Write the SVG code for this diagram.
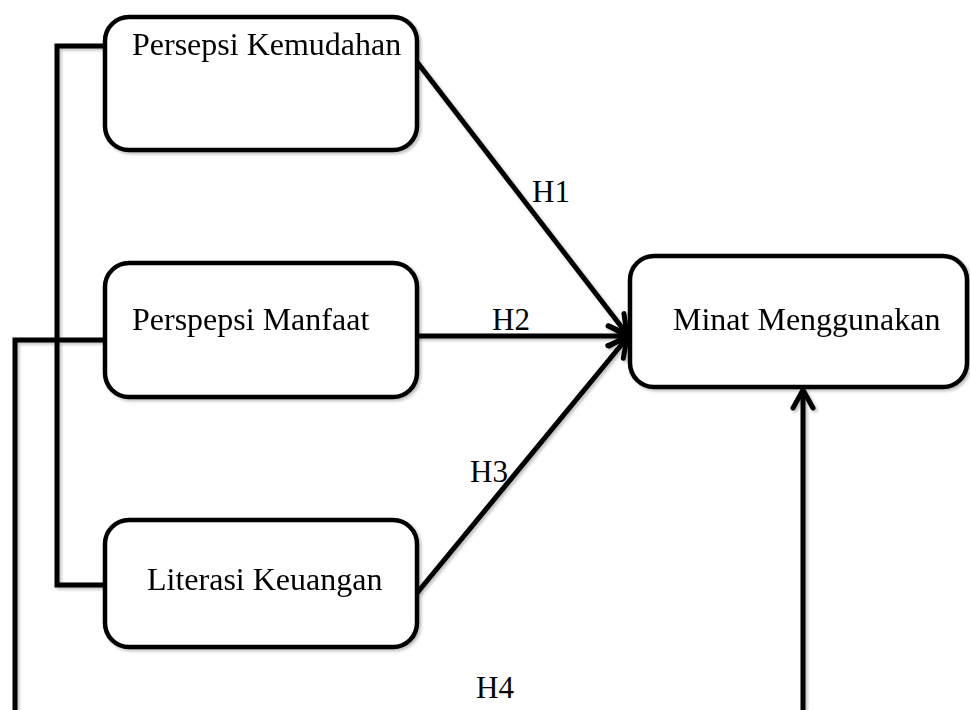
<svg xmlns="http://www.w3.org/2000/svg" width="970" height="710" viewBox="0 0 970 710">
<style>
.box{fill:#fff;stroke:#000;stroke-width:4.5}
.ln{fill:none;stroke:#000;stroke-width:5;stroke-linejoin:miter;stroke-linecap:butt}
.t{font-family:"Liberation Serif","Times New Roman",serif;font-size:32px;fill:#000}
.h{font-family:"Liberation Serif","Times New Roman",serif;font-size:31px;fill:#000}
</style>
<defs>
<filter id="sh" x="-10%" y="-10%" width="130%" height="130%">
<feDropShadow dx="2" dy="2" stdDeviation="1.5" flood-color="#000" flood-opacity="0.25"/>
</filter>
<marker id="ah" markerUnits="userSpaceOnUse" markerWidth="30" markerHeight="30" refX="22" refY="12" orient="auto" viewBox="0 0 30 24">
<path d="M4,2 L22,12 L4,22" fill="none" stroke="#000" stroke-width="5" stroke-linecap="round" stroke-linejoin="round"/>
</marker>
</defs>
<g id="connectors" filter="url(#sh)">
<path class="ln" d="M103,46 H57 V585 H105"/>
<path class="ln" d="M103,340 H15 V710"/>
<line class="ln" x1="417" y1="62" x2="627" y2="334" marker-end="url(#ah)"/>
<line class="ln" x1="417" y1="336" x2="627" y2="336" marker-end="url(#ah)"/>
<line class="ln" x1="417" y1="593" x2="627" y2="338" marker-end="url(#ah)"/>
<line class="ln" x1="803" y1="710" x2="803" y2="390" marker-end="url(#ah)"/>
</g>
<g id="persepsi-kemudahan" filter="url(#sh)">
<rect class="box" x="105" y="17" width="312" height="133" rx="24"/>
<text class="t" x="132" y="55">Persepsi Kemudahan</text>
</g>
<g id="perspepsi-manfaat" filter="url(#sh)">
<rect class="box" x="105" y="263" width="312" height="134" rx="24"/>
<text class="t" x="132" y="330">Perspepsi Manfaat</text>
</g>
<g id="literasi-keuangan" filter="url(#sh)">
<rect class="box" x="105" y="520" width="312" height="127" rx="24"/>
<text class="t" x="147" y="590">Literasi Keuangan</text>
</g>
<g id="minat-menggunakan" filter="url(#sh)">
<rect class="box" x="630" y="256" width="337" height="131" rx="24"/>
<text class="t" x="673" y="330">Minat Menggunakan</text>
</g>
<g id="labels">
<text class="h" x="532" y="202">H1</text>
<text class="h" x="492" y="330">H2</text>
<text class="h" x="470" y="482">H3</text>
<text class="h" x="476" y="698">H4</text>
</g>
</svg>
